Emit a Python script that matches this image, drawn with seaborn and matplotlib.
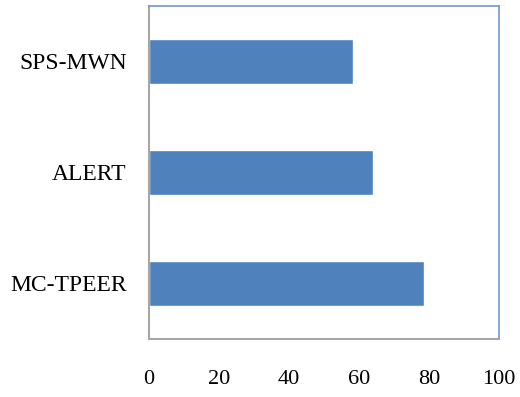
import matplotlib
matplotlib.use('Agg')
import matplotlib.pyplot as plt
import seaborn as sns
import pandas as pd

methods = ['SPS-MWN', 'ALERT', 'MC-TPEER']
values = [58.2, 64.1, 78.6]
xticks = [0, 20, 40, 60, 80, 100]

sns.set_style('white')
plt.rcParams['font.family'] = ['Liberation Serif', 'DejaVu Serif']
plt.rcParams['text.color'] = 'black'
plt.rcParams['xtick.color'] = 'black'
plt.rcParams['ytick.color'] = 'black'

df = pd.DataFrame({'method': methods, 'value': values})

fig = plt.figure(figsize=(5.2, 3.97), dpi=100)
ax = fig.add_axes([0.2865, 0.1461, 0.673, 0.8388])
sns.barplot(data=df, x='value', y='method', order=methods, color='#4F81BD',
            width=0.41, saturation=1, ax=ax)

ax.set_xlim(0, 100)
ax.set_xticks(xticks)
ax.set_xticklabels([str(t) for t in xticks])
ax.set_xlabel('')
ax.set_ylabel('')
ax.tick_params(axis='x', length=0, pad=22, labelsize=16, labelcolor='black')
ax.tick_params(axis='y', length=0, pad=16, labelsize=17, labelcolor='black')

for side in ['left', 'bottom']:
    ax.spines[side].set_color('#A6A6A6')
    ax.spines[side].set_linewidth(1.5)
for side in ['top', 'right']:
    ax.spines[side].set_color('#7396D0')
    ax.spines[side].set_linewidth(1.2)

plt.savefig('out.png', dpi=100)
